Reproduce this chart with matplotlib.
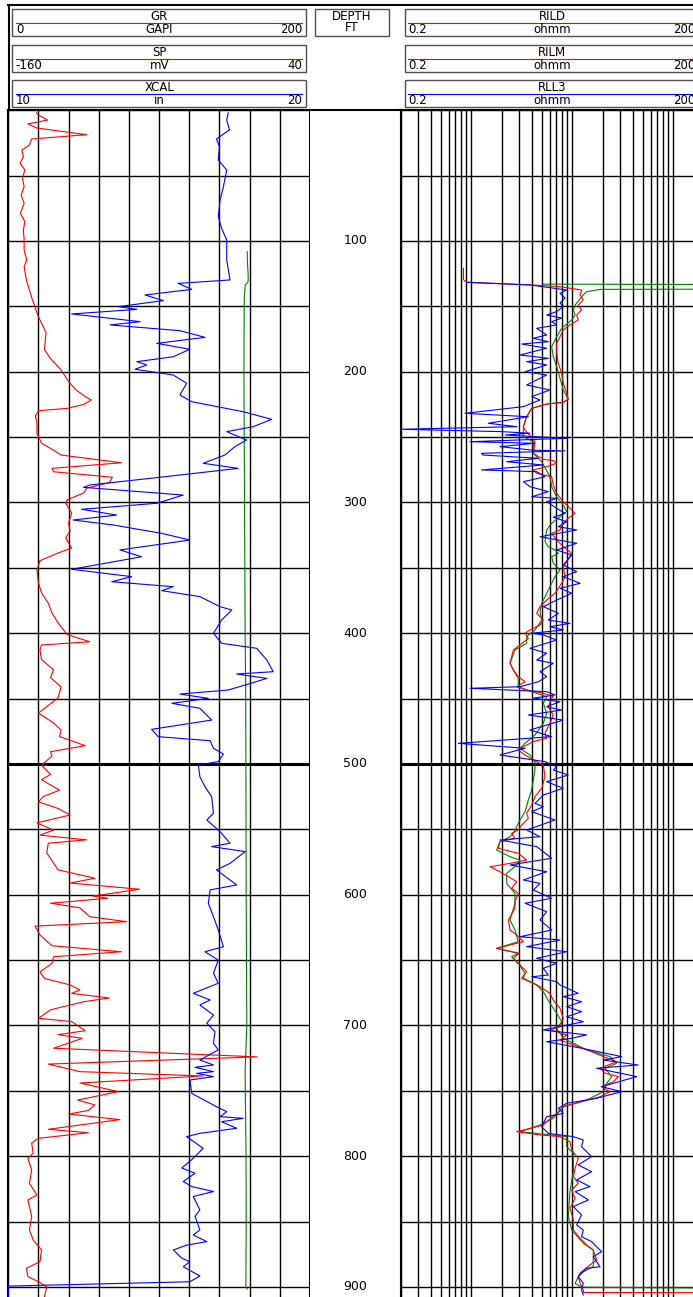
import numpy as np
import matplotlib.pyplot as plt
from matplotlib.patches import Rectangle

W, H = 693, 1297
TOP = 110.25          # pixel row of depth 0
DEPTH_BOTTOM = 907.65  # depth at the lower image edge

# ---------------- track 1 : GR (GAPI) ----------------
gr_depth = [2.0, 3.6, 7.5, 10.5, 13.6, 18.7, 22.0, 26.6, 30.4, 35.5, 40.6, 45.7, 52.0, 58.5, 64.8,
            71.2, 78.8, 85.2, 91.6, 99.2, 106.9, 114.5, 119.6, 130, 145, 158, 170, 183, 190, 198.6,
            207.6, 214, 219, 221.6, 225, 228, 229.8, 234, 239, 247, 254.6, 260, 263.7, 269.6, 273.9,
            276.5, 280.7, 284.8, 289, 292.7, 298, 300.5, 308, 315.7, 322, 327, 334.8, 338.6, 344.5,
            351.6, 361.6, 369, 377, 384.6, 392, 401, 406.5, 409, 412.8, 420, 428, 434, 441, 449.5,
            461, 468.6, 474, 479, 486, 490.6, 494, 500.8, 508, 512, 520, 525, 529, 534, 539, 545,
            550.6, 554.4, 558, 560.6, 568, 575.7, 581, 587.4, 591, 595.8, 601, 602.7, 606.5, 610,
            616.8, 620.6, 624, 630.8, 636, 639, 643.6, 647.4, 652.5, 659, 664, 669, 672.8, 675.4,
            679, 681.8, 688, 694.5, 697, 701.3, 704, 707, 709.8, 717.4, 724, 729.5, 735.3, 738.6,
            744, 750.6, 757, 760.8, 765, 767.7, 772, 779.4, 782, 786.3, 790, 797.7, 801.6, 810.5,
            820.7, 829.6, 833.5, 846, 856.4, 864, 871.7, 880.6, 885.7, 892, 896, 899.8, 907.4]
gr_value = [18.8, 20, 26, 13, 19, 52, 15.5, 14, 9, 10, 7.8, 11, 9.4, 10.5, 8.5,
            10.5, 8, 11, 10, 10.5, 10.5, 12.2, 10.5, 12, 16, 20, 25, 24, 28, 35,
            40, 45, 51, 55, 50, 39, 20, 18, 19, 19, 22, 30, 35, 75, 29,
            30, 69, 67, 52, 50, 39, 38, 42, 40, 41, 38, 42, 33, 21,
            19, 20, 22, 26.5, 29, 33, 39, 54, 22, 21, 22, 30, 28, 35, 33,
            20, 30, 35, 34, 51, 28, 29, 22, 28, 22, 34, 23, 20, 33, 41, 19,
            30, 21, 52, 26.5, 25.5, 30, 33, 57.5, 41, 87, 56, 66, 28, 47.5,
            54, 78.5, 17.7, 21, 26, 29, 75, 30, 29, 21, 24, 41, 47.5, 42,
            67, 50, 28, 20, 42, 47.5, 51, 33, 49, 30, 165, 26.5, 47.5, 129,
            47.5, 73, 46, 57.5, 53, 40, 74, 26.5, 53, 20, 15.5, 16.5, 13, 15.5,
            14, 19, 13, 15.5, 14, 16.5, 22, 21, 12, 13, 20, 25.5, 24]

# ---------------- track 1 : SP (mV) ----------------
sp_depth = [108.2, 115, 126, 131, 134, 145, 200, 300, 400, 450, 500, 600, 700, 735, 800, 850, 900, 901.5]
sp_value = [-1.6, -1.5, -1.0, -1.0, -3.0, -3.6, -3.8, -3.4, -3.0, -2.6, -2.5, -2.3, -1.9, -3.0,
            -2.4, -2.3, -2.5, -1.6]

# ---------------- track 1 : XCAL (in) ----------------
xcal_depth = [2.0, 7.5, 15.0, 22.0, 28.0, 38.0, 45.7, 58.5, 68.6, 81.4, 90.3, 99.2, 114.5, 129.8,
              132.4, 137.0, 141.3, 145.6, 150.2, 152.3, 155.8, 161.7, 164.2, 168.6, 173.7, 178.3,
              182.8, 188.5, 192.3, 194.8, 198.1, 202.5, 208.8, 217.8, 222.9, 230.6, 236.4, 242.0,
              245.8, 252.2, 257.3, 263.7, 270.0, 273.9, 280.7, 286.6, 288.4, 294.3, 300.6, 305.2,
              309.6, 313.4, 317.2, 323.6, 328.7, 336.3, 341.5, 351.1, 356.7, 360.6, 364.4, 367.4,
              372.0, 379.7, 382.2, 389.9, 400.0, 407.7, 411.5, 420.5, 429.4, 431.2, 434.5, 439.6,
              443.4, 446.5, 449.8, 453.6, 457.4, 466.4, 473.5, 479.1, 482.2, 488.0, 492.4, 498.2,
              500.8, 509.7, 517.4, 525.0, 537.7, 542.8, 551.8, 560.6, 563.2, 567.0, 576.0, 581.0,
              592.5, 596.3, 606.5, 616.8, 627.0, 639.7, 643.6, 650.0, 660.0, 667.7, 675.4, 680.5,
              684.3, 692.0, 698.3, 704.7, 713.6, 718.7, 726.4, 730.2, 732.0, 735.3, 736.6, 739.1,
              741.7, 751.9, 762.1, 765.9, 769.7, 771.0, 773.6, 778.6, 782.5, 785.0, 793.9, 802.6,
              809.0, 813.0, 819.3, 823.2, 827.0, 830.8, 841.0, 846.0, 856.4, 860.2, 865.3, 868.0,
              871.7, 878.0, 880.6, 884.5, 891.6, 896.0, 899.3, 907.6]
xcal_value = [17.29, 17.24, 17.33, 16.90, 17.00, 16.96, 17.24, 17.13, 17.02, 16.96, 17.07, 17.24, 17.24, 17.35,
              15.63, 16.08, 14.53, 15.14, 13.65, 14.26, 12.10, 14.37, 13.37, 15.69, 16.52, 14.92,
              16.02, 15.47, 14.26, 14.59, 14.20, 15.47, 15.91, 15.69, 16.08, 17.79, 18.73, 18.12,
              17.24, 17.90, 17.51, 17.18, 16.46, 17.62, 15.03, 12.71, 12.49, 15.80, 14.92, 12.43,
              13.59, 12.15, 13.48, 15.08, 16.02, 13.70, 14.42, 12.10, 14.09, 13.43, 15.47, 15.08,
              16.35, 17.02, 17.41, 17.07, 16.80, 17.07, 18.23, 18.57, 18.78, 17.57, 18.57, 17.85,
              17.29, 15.69, 16.63, 15.42, 16.35, 16.74, 14.75, 14.97, 16.69, 16.80, 17.13, 16.96,
              16.30, 16.35, 16.52, 16.74, 16.80, 16.58, 17.02, 17.35, 16.74, 17.85, 17.35, 16.90,
              17.57, 16.69, 16.63, 16.80, 16.96, 17.13, 16.52, 16.96, 16.80, 16.96, 16.13, 16.69,
              16.35, 16.80, 16.58, 16.85, 16.80, 16.96, 16.35, 16.80, 16.19, 16.80, 16.24, 16.80,
              16.02, 16.08, 16.90, 17.24, 17.02, 17.79, 17.07, 17.57, 16.35, 15.91, 16.46, 16.08,
              15.75, 16.19, 15.80, 16.08, 16.80, 16.13, 16.35, 16.19, 16.35, 16.13, 16.58, 15.91,
              15.47, 15.75, 16.02, 15.80, 16.35, 16.02, 10.0, 10.0]

# ---------------- track 3 : RILD (ohmm) ----------------
rild_depth = [133.0, 133.3, 136.8, 137.0, 138.8, 141.3, 149.0, 152.8, 156.6, 160.4, 166.8, 173.2,
              180.8, 188.5, 196.1, 205.0, 214.0, 221.0, 223.4, 224.7, 228.0, 234.4, 242.0, 249.7,
              253.5, 262.4, 268.8, 280.3, 287.9, 295.6, 301.9, 307.0, 310.9, 315.9, 321.0, 330.0,
              333.8, 336.3, 338.9, 341.5, 346.5, 351.6, 356.7, 361.8, 369.4, 377.1, 383.5, 389.9,
              397.5, 402.6, 407.7, 412.8, 423.0, 428.1, 434.4, 440.9, 444.7, 448.5, 453.6, 461.2,
              468.9, 477.8, 484.2, 488.0, 493.1, 498.2, 504.6, 512.2, 519.9, 527.5, 536.5, 542.8,
              548.0, 553.0, 555.6, 559.4, 565.8, 570.9, 573.5, 578.6, 583.6, 591.3, 598.9, 606.5,
              619.3, 627.0, 635.9, 641.0, 644.8, 647.4, 653.7, 660.1, 663.9, 669.0, 674.2, 683.0,
              690.7, 697.1, 702.2, 709.8, 714.9, 718.7, 723.8, 728.9, 732.7, 739.1, 744.2, 750.6,
              757.0, 762.1, 771.0, 776.2, 781.2, 785.0, 792.7, 797.7, 811.3, 826.6, 846.2, 856.4,
              866.6, 871.7, 884.5, 889.5, 897.2, 900.2, 901.0, 907.65]
rild_value = [5.2, 600, 600, 18.9, 13.95, 12.9, 10.7, 10.3, 10.7, 9.91, 7.89, 7.04,
              6.28, 6.51, 7.04, 7.59, 8.18, 9.17, 8.18, 5.6, 3.98, 3.55, 3.29, 3.29,
              4.13, 4.13, 5.0, 6.04, 6.28, 7.04, 8.18, 8.84, 7.59, 6.28, 5.6, 5.39,
              5.81, 6.77, 7.30, 6.28, 6.51, 7.59, 6.77, 6.28, 5.6, 5.0, 4.81, 5.0,
              4.29, 3.55, 3.55, 2.72, 2.43, 2.62, 2.93, 2.93, 3.98, 5.6, 5.19, 5.6,
              5.19, 4.29, 3.42, 3.05, 3.83, 4.29, 4.29, 4.13, 3.98, 3.69, 3.42, 3.05,
              2.83, 2.62, 2.43, 1.93, 1.79, 2.43, 3.05, 2.72, 2.25, 2.25, 2.72, 2.72,
              2.43, 2.72, 2.93, 1.79, 2.93, 2.52, 3.0, 3.42, 3.29, 4.46, 5.19, 6.04,
              7.04, 7.89, 7.04, 8.18, 11.1, 13.95, 23.7, 27.6, 21.2, 24.7, 22.0, 20.4,
              13.95, 8.18, 6.51, 4.81, 3.05, 8.84, 8.84, 10.3, 10.3, 9.53, 9.17, 9.91,
              12.9, 16.2, 16.2, 12.0, 10.7, 12.4, 600, 600]

# ---------------- track 3 : RILM (ohmm) ----------------
rilm_depth = [120.9, 129.6, 131.6, 133.6, 134.9, 137.5, 141.3, 145.1, 149.0, 152.8, 156.6, 160.4,
              164.2, 168.0, 173.2, 178.2, 186.0, 193.5, 201.2, 208.8, 216.5, 221.0, 223.4, 224.7,
              228.0, 234.4, 242.0, 244.6, 253.5, 262.4, 267.0, 268.0, 270.0, 272.6, 275.1, 277.7,
              280.3, 286.6, 293.0, 299.4, 304.4, 308.3, 312.1, 315.9, 321.0, 323.6, 328.7, 333.8,
              338.9, 345.3, 349.1, 356.7, 361.8, 369.4, 374.6, 379.7, 384.7, 389.9, 393.7, 397.5,
              400.0, 403.9, 409.0, 412.8, 423.0, 428.1, 433.2, 437.1, 440.9, 443.4, 445.9, 448.5,
              449.7, 456.2, 462.5, 468.9, 476.5, 480.3, 482.9, 486.8, 489.3, 493.1, 496.9, 500.8,
              509.7, 518.6, 525.0, 531.4, 537.7, 541.5, 546.7, 550.5, 553.0, 556.9, 559.4, 564.5,
              568.3, 573.5, 576.0, 578.6, 582.4, 586.2, 590.0, 595.1, 598.9, 605.3, 610.4, 619.3,
              627.0, 630.8, 635.9, 641.0, 644.8, 648.6, 653.7, 658.8, 663.9, 667.7, 670.3, 675.4,
              680.5, 686.8, 694.5, 700.9, 703.4, 707.2, 711.1, 714.9, 717.4, 723.8, 727.7, 732.7,
              736.5, 739.1, 743.0, 746.8, 750.6, 754.5, 758.3, 762.1, 767.2, 773.6, 776.2, 781.2,
              783.7, 785.0, 788.9, 795.2, 801.6, 809.2, 815.6, 820.7, 825.8, 832.2, 839.8, 848.7,
              856.4, 862.7, 867.9, 871.7, 879.4, 883.2, 888.3, 892.1, 897.2, 902.3, 904.2, 904.4,
              907.65]
rilm_value = [0.84, 0.84, 0.91, 3.83, 7.59, 12.4, 12.0, 12.9, 11.5, 12.4, 11.1, 11.5,
              9.53, 8.18, 7.59, 7.04, 7.04, 7.30, 7.89, 8.18, 8.84, 9.17, 8.18, 5.6,
              3.98, 3.55, 3.29, 3.42, 4.29, 4.13, 5.19, 6.51, 7.04, 5.6, 4.13, 4.46,
              6.28, 6.51, 7.04, 8.18, 9.53, 10.7, 9.17, 8.18, 7.59, 6.28, 7.04, 8.18,
              9.91, 8.84, 8.18, 8.51, 7.89, 6.77, 5.6, 4.81, 4.46, 5.19, 4.81, 3.83,
              3.42, 3.69, 3.05, 2.62, 2.43, 2.62, 2.93, 3.42, 2.83, 3.55, 5.19, 6.51,
              6.28, 5.81, 6.51, 6.04, 5.39, 5.6, 4.13, 3.29, 2.93, 3.42, 4.13, 5.19,
              5.39, 5.0, 4.29, 3.98, 3.55, 3.69, 3.17, 2.93, 2.52, 2.72, 1.93, 1.86,
              2.93, 3.55, 2.43, 1.54, 1.93, 2.34, 2.83, 2.52, 2.93, 2.72, 2.72, 2.34,
              2.43, 2.83, 3.29, 1.79, 3.0, 2.62, 3.05, 3.55, 3.17, 4.13, 4.81, 6.04,
              6.51, 7.59, 8.18, 7.59, 6.04, 8.84, 7.59, 10.3, 12.9, 20.4, 27.6, 18.9,
              21.2, 28.7, 25.6, 19.6, 23.7, 18.9, 12.4, 8.18, 7.04, 5.6, 5.19, 2.83,
              4.81, 7.59, 9.53, 9.91, 11.5, 10.7, 10.3, 11.5, 9.91, 10.7, 9.53, 10.3,
              10.3, 12.0, 13.95, 16.2, 17.5, 15.0, 12.4, 11.5, 12.0, 12.9, 13.0, 600,
              600]

# ---------------- track 3 : RLL3 (ohmm) ----------------
rll3_depth = [131.6, 133.6, 137.5, 140.0, 143.6, 147.4, 150.2, 154.0, 156.6, 158.9, 161.7, 164.2,
              166.8, 171.9, 174.4, 177.0, 178.8, 182.0, 187.2, 189.7, 192.3, 194.8, 200.0, 202.5,
              210.1, 214.0, 219.0, 221.6, 226.7, 231.8, 234.4, 239.4, 242.0, 244.0, 245.8, 247.0,
              248.4, 250.9, 253.5, 254.7, 257.3, 260.0, 260.5, 262.4, 263.7, 266.2, 268.8, 271.3,
              275.1, 276.4, 280.3, 284.1, 287.9, 291.7, 295.6, 296.8, 299.4, 304.4, 308.3, 311.3,
              314.7, 318.5, 321.0, 326.2, 331.2, 336.3, 340.2, 347.8, 352.9, 356.7, 361.8, 365.6,
              369.4, 374.6, 379.7, 384.7, 389.9, 392.4, 395.0, 397.5, 400.0, 401.3, 405.2, 411.5,
              415.3, 420.5, 423.0, 429.4, 433.2, 437.1, 440.9, 442.1, 444.7, 447.2, 449.7, 452.3,
              456.2, 458.7, 462.5, 466.4, 474.0, 479.1, 484.2, 488.0, 493.1, 498.2, 502.1, 504.6,
              508.4, 513.5, 518.6, 523.7, 530.1, 532.7, 536.5, 542.8, 550.5, 555.6, 558.1, 563.2,
              572.1, 577.2, 582.4, 588.7, 591.3, 596.4, 602.7, 606.5, 613.0, 619.3, 627.0, 632.1,
              634.6, 639.7, 643.6, 648.6, 652.4, 656.3, 661.4, 662.7, 666.5, 669.0, 675.4, 677.9,
              681.8, 685.6, 689.4, 693.3, 697.1, 703.4, 707.2, 709.8, 712.4, 717.4, 723.8, 726.4,
              730.2, 732.7, 739.1, 746.8, 750.6, 755.7, 759.5, 763.3, 767.2, 769.7, 777.4, 782.5,
              785.0, 787.6, 792.7, 800.3, 806.6, 811.8, 818.1, 823.2, 827.1, 833.4, 838.5, 844.9,
              852.5, 856.4, 861.5, 865.3, 873.0, 876.8, 884.5, 885.7, 892.1, 897.2, 902.3, 906.1]
rll3_value = [0.91, 3.83, 8.84, 7.59, 8.51, 7.59, 8.18, 7.04, 5.6, 7.89, 6.28, 7.04,
              4.46, 5.6, 4.13, 5.81, 3.17, 5.6, 3.05, 5.81, 3.55, 5.6, 3.42, 5.6,
              3.55, 6.04, 3.98, 4.81, 3.29, 0.87, 3.69, 1.48, 2.83, 0.2, 2.0, 3.83,
              2.18, 8.84, 0.975, 4.29, 1.93, 4.13, 8.51, 1.27, 1.32, 4.63, 2.25, 5.19,
              1.27, 4.46, 5.39, 3.29, 3.83, 5.81, 3.98, 7.04, 5.6, 7.04, 8.51, 6.51,
              8.84, 7.30, 11.1, 4.81, 11.1, 7.04, 9.91, 8.18, 11.1, 8.18, 12.0, 7.59,
              9.91, 7.04, 5.19, 7.30, 5.81, 9.53, 6.04, 8.18, 3.98, 5.19, 7.04, 3.83,
              5.6, 4.46, 6.51, 4.81, 5.6, 4.63, 3.05, 0.975, 5.6, 6.77, 4.13, 7.59,
              5.6, 7.89, 3.69, 8.18, 3.83, 6.28, 0.747, 3.42, 1.93, 5.39, 7.04, 6.51,
              9.17, 5.6, 8.18, 5.19, 4.29, 5.19, 3.98, 6.77, 3.55, 4.81, 1.93, 4.46,
              6.28, 2.43, 5.6, 3.29, 4.81, 4.13, 6.28, 3.42, 5.6, 4.81, 6.28, 3.05,
              7.59, 3.55, 8.84, 4.46, 7.04, 5.19, 5.81, 3.98, 7.04, 7.59, 11.5, 8.18,
              12.4, 8.84, 12.4, 8.84, 12.9, 5.19, 13.95, 9.91, 5.6, 12.4, 31.0, 20.4,
              45.2, 17.5, 43.6, 19.6, 31.0, 17.5, 8.84, 7.30, 8.18, 5.6, 5.0, 5.81,
              10.3, 12.9, 12.4, 15.6, 11.5, 15.6, 11.1, 15.0, 10.7, 14.5, 10.3, 12.4,
              11.1, 12.9, 12.4, 15.6, 19.6, 16.2, 18.9, 13.95, 11.5, 12.9, 12.4, 12.9]

depth_labels = [100, 200, 300, 400, 500, 600, 700, 800, 900]

RED, GREEN, BLUE = '#ff0000', '#008000', '#0000ff'

fig = plt.figure(figsize=(W / 100, H / 100), dpi=100)


def pixel_axes(x0, x1):
    return fig.add_axes([x0 / W, 0, (x1 - x0) / W, 1 - TOP / H])


def style_track(ax, left_lw, right_lw):
    ax.set_ylim(DEPTH_BOTTOM, 0)
    ax.set_yticks(np.arange(0, 901, 50))
    ax.tick_params(which='both', length=0, labelleft=False, labelbottom=False)
    ax.grid(True, which='both', color='black', lw=1.0)
    ax.axhline(500, color='black', lw=2.2, zorder=1.6)
    ax.spines['bottom'].set_visible(False)
    ax.spines['top'].set_linewidth(1.5)
    ax.spines['left'].set_linewidth(left_lw)
    ax.spines['right'].set_linewidth(right_lw)


def twin_curve_axes(ax, lo, hi):
    tw = ax.twiny()
    tw.set_xlim(lo, hi)
    tw.set_xticks([])
    for s in tw.spines.values():
        s.set_visible(False)
    return tw


# track 1
ax1 = pixel_axes(8.3, 310)
ax1.set_xlim(0, 200)
ax1.set_xticks(np.arange(0, 201, 20))
style_track(ax1, 1.5, 2.2)
ax_sp = twin_curve_axes(ax1, -160, 40)
ax_cal = twin_curve_axes(ax1, 10, 20)
ax1.plot(gr_value, gr_depth, color=RED, lw=0.8)
ax_sp.plot(sp_value, sp_depth, color=GREEN, lw=0.8)
ax_cal.plot(xcal_value, xcal_depth, color=BLUE, lw=0.8)

# depth track
axd = pixel_axes(310, 400.5)
axd.set_xlim(0, 1)
axd.set_ylim(DEPTH_BOTTOM, 0)
axd.set_xticks([])
axd.set_yticks([])
axd.spines['bottom'].set_visible(False)
axd.spines['left'].set_visible(False)
axd.spines['top'].set_linewidth(1.5)
axd.spines['right'].set_linewidth(2.2)
for d in depth_labels:
    axd.text(0.5, d, str(d), ha='center', va='center', fontsize=9)

# track 3
ax3 = pixel_axes(400.5, 703.5)
ax3.set_xscale('log')
ax3.set_xlim(0.2, 200)
ax3.set_xticks([m * 10.0 ** e for e in (-1, 0, 1, 2) for m in range(1, 10)
                if 0.2 <= m * 10.0 ** e <= 200])
ax3.set_xticks([], minor=True)
style_track(ax3, 1.5, 1.5)
ax3.plot(rild_value, rild_depth, color=GREEN, lw=0.8)
ax3.plot(rilm_value, rilm_depth, color=RED, lw=0.8)
ax3.plot(rll3_value, rll3_depth, color=BLUE, lw=0.8)

# header (pixel coordinates)
hdr = fig.add_axes([0, 0, 1, 1], zorder=-1)
hdr.set_xlim(0, W)
hdr.set_ylim(H, 0)
hdr.axis('off')
hdr.plot([8.3, W], [5, 5], color='black', lw=1.5)
hdr.plot([8.8, 8.8], [5, TOP], color='black', lw=1.5)

FS = 8.5


def curve_box(x0, x1, y0, name, unit, lo, hi, color):
    hdr.add_patch(Rectangle((x0, y0), x1 - x0, 26.7, fill=False, ec='#505050', lw=1.0))
    hdr.plot([x0 + 3.5, x1 - 4], [y0 + 14, y0 + 14], color=color, lw=0.8)
    hdr.text((x0 + x1) / 2, y0 + 7.2, name, ha='center', va='center', fontsize=FS)
    hdr.text(x0 + 3.5, y0 + 20.5, lo, ha='left', va='center', fontsize=FS)
    hdr.text((x0 + x1) / 2, y0 + 20.5, unit, ha='center', va='center', fontsize=FS)
    hdr.text(x1 - 4, y0 + 20.5, hi, ha='right', va='center', fontsize=FS)


curve_box(12.3, 306, 9.3, 'GR', 'GAPI', '0', '200', RED)
curve_box(12.3, 306, 45, 'SP', 'mV', '-160', '40', GREEN)
curve_box(12.3, 306, 80, 'XCAL', 'in', '10', '20', BLUE)
curve_box(404.7, 699.5, 9.3, 'RILD', 'ohmm', '0.2', '200', GREEN)
curve_box(404.7, 699.5, 45, 'RILM', 'ohmm', '0.2', '200', RED)
curve_box(404.7, 699.5, 80, 'RLL3', 'ohmm', '0.2', '200', BLUE)

hdr.add_patch(Rectangle((315, 9.3), 74, 26.7, fill=False, ec='#505050', lw=1.0))
hdr.text(352, 16.7, 'DEPTH', ha='center', va='center', fontsize=FS)
hdr.text(352, 27.7, 'FT', ha='center', va='center', fontsize=FS)

fig.savefig('out.png', dpi=100)
